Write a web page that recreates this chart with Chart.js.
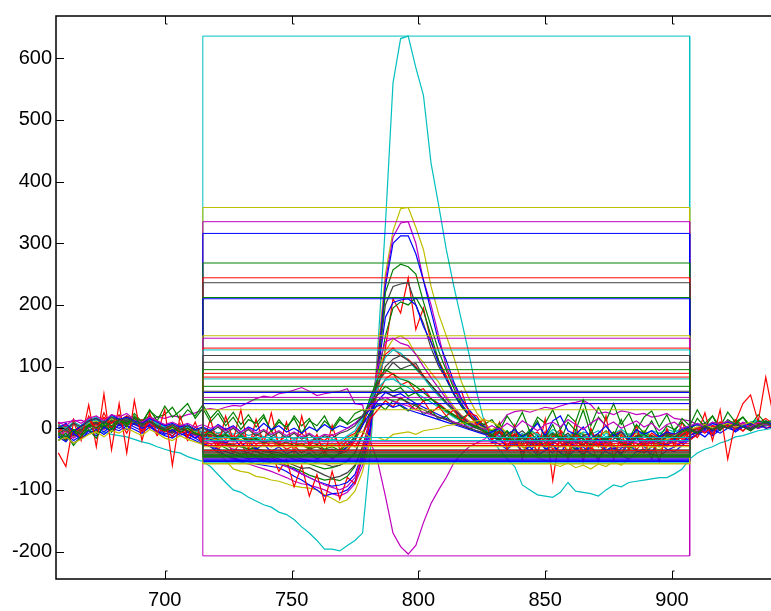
<!DOCTYPE html>
<html><head><meta charset="utf-8">
<script src="https://cdn.jsdelivr.net/npm/chart.js@4"></script>
<style>html,body{margin:0;padding:0;background:#fff;overflow:hidden;width:771px;height:611px}canvas{display:block}</style>
</head><body>
<canvas id="c" width="800" height="611"></canvas>
<script>
// x positions
const xs = [658,661,664,667,670,673,676,679,682,685,688,691,694,697,700,703,706,709,712,715,
718,721,724,727,730,733,736,739,742,745,748,751,754,757,760,763,766,769,772,775,778,781,
784,787,790,793,796,799,802,805,808,811,814,817,820,823,826,
829,832,835,838,841,844,847,850,853,856,859,862,865,868,871,874,877,880,883,886,889,892,895,898,901,904,907,910,913,916,919,922,925,928,931,934,937,940];
const xTicks = [700,750,800,850,900];
const yTicks = [-200,-100,0,100,200,300,400,500,600];
const boxSpan = [715,907];

const s01 = [5,3,-2,-5,-3,-8,-6,-10,-12,-14,-18,-22,-25,-30,-34,-38,-40,-46,-50,-54,-62,-75,-88,-100,-104,-112,-118,-124,-128,-136,-140,-148,-160,-170,-182,-196,-196,-199,-190,-182,-170,-40,
130,330,560,632,636,585,540,430,362,290,230,175,120,58,10,
-18,-35,-50,-62,-92,-100,-108,-110,-112,-104,-88,-102,-104,-106,-110,-100,-92,-95,-88,-86,-84,-82,-80,-80,-74,-66,-50,-40,-34,-30,-24,-20,-14,-12,-8,-4,-2,0];
const s02 = [8,10,12,13,8,5,10,12,8,10,15,12,14,18,16,20,18,22,25,30,32,30,34,37,36,42,48,52,50,56,58,62,66,60,53,56,58,60,64,40,38,-20,
-55,-110,-170,-192,-204,-190,-153,-122,-100,-80,-56,-42,-30,-24,-18,
-8,5,22,27,29,26,30,34,32,36,40,42,45,38,24,26,22,28,26,22,24,18,20,24,16,14,12,6,8,4,10,6,8,4,6,8,4,6];
const s03 = [-10,-5,-14,-8,2,5,-3,8,12,6,14,10,4,8,2,-4,0,-6,-10,-18,-30,-40,-52,-66,-70,-72,-78,-80,-84,-86,-90,-94,-96,-97,-100,-108,-114,-121,-116,-102,-70,-20,
120,250,320,356,358,326,290,230,185,150,115,75,48,25,10,
-5,2,-8,-15,-20,-12,-25,-30,-18,-22,-35,-28,-20,-32,-38,-30,-25,-40,-35,-28,-22,-30,-35,-26,-20,-14,-8,0,5,-2,8,4,10,2,6,12,4,8];
const s04 = [-8,-2,-12,-6,0,8,4,10,6,14,8,4,12,6,0,-6,2,-4,-12,-20,-25,-34,-45,-50,-55,-58,-62,-66,-70,-75,-80,-86,-90,-92,-96,-100,-106,-110,-104,-90,-60,-12,
110,240,310,333,335,300,240,200,150,100,70,45,28,14,4,
-8,-4,-12,-18,-10,-22,-26,-16,-20,-30,-24,-18,-28,-32,-22,-26,-34,-30,-20,-24,-28,-22,-18,-26,-30,-20,-12,-4,2,-6,4,8,2,10,6,4,12,6];
const s05 = [-15,-8,-20,-12,-4,2,-6,4,0,8,2,-4,6,0,-8,-12,-4,-10,-16,-24,-30,-38,-44,-48,-52,-54,-58,-60,-62,-64,-70,-78,-84,-92,-100,-110,-106,-105,-100,-86,-50,-5,
100,230,300,312,312,283,240,190,140,110,75,48,30,15,2,
-12,-20,-28,-18,-30,-36,-24,-32,-40,-28,-22,-34,-42,-30,-26,-38,-44,-32,-28,-36,-40,-30,-24,-34,-38,-28,-18,-10,-2,-8,0,6,-2,4,8,2,6,10];
const s06 = [-5,0,-10,-4,6,10,2,14,8,16,10,6,14,4,-2,-8,0,-6,-4,-12,-20,-26,-32,-38,-42,-40,-46,-50,-48,-54,-60,-64,-70,-76,-80,-84,-82,-85,-78,-62,-30,10,
90,220,257,266,262,250,205,165,125,94,65,40,22,10,0,
-10,-4,-16,-22,-14,-26,-20,-30,-24,-18,-28,-34,-22,-16,-26,-30,-20,-24,-32,-28,-18,-22,-30,-24,-16,-12,-6,0,4,-4,6,2,10,4,0,8,12,6];
const s07 = [10,-20,15,-10,20,-5,25,0,12,-8,18,-6,10,-12,5,-15,8,-20,-5,-28,-10,-35,-18,-40,-22,-50,-30,-55,-40,-70,-50,-95,-60,-110,-75,-120,-70,-115,-80,-90,-40,10,
60,130,210,187,244,160,195,140,110,85,55,60,25,20,0,
-20,-5,-30,-10,-45,-15,-40,-5,-35,-20,-50,-10,-38,-25,-55,-15,-30,-45,-10,-35,-20,-50,-15,-30,-10,-25,-5,-15,5,-10,8,0,12,-5,10,2,6,0];
const s08 = [-2,4,-8,0,10,14,6,18,12,20,14,8,16,6,0,-4,4,-2,-8,-14,-18,-22,-26,-30,-28,-34,-38,-42,-45,-50,-55,-60,-65,-64,-70,-76,-81,-78,-72,-60,-30,15,
100,200,230,234,236,200,170,130,100,80,55,35,20,8,0,
-6,-14,-8,-20,-12,-24,-18,-10,-22,-16,-26,-20,-12,-24,-30,-18,-14,-22,-28,-16,-20,-26,-14,-18,-24,-12,-6,-2,4,0,6,10,4,8,2,12,6,4];
const s09 = [0,6,-4,4,12,16,8,20,14,10,18,12,20,10,4,-2,6,0,-6,-10,-14,-18,-24,-28,-30,-34,-32,-38,-40,-44,-46,-50,-54,-58,-62,-66,-64,-60,-52,-40,-10,20,
80,150,195,205,200,212,190,150,110,80,55,36,20,10,2,
-4,2,-10,-6,-16,-2,-12,-20,-8,-14,-18,-6,-10,-22,-14,-4,-16,-10,-20,-12,-6,-14,-18,-8,-12,-4,0,6,2,8,4,10,6,2,8,4,12,6];
const s10 = [-20,-12,-24,-16,-8,-2,-10,0,-4,4,-2,-8,2,-6,-12,-16,-8,-14,-20,-26,-30,-34,-38,-42,-46,-50,-48,-54,-56,-58,-62,-66,-74,-80,-86,-90,-94,-92,-88,-75,-40,0,
90,180,204,208,210,200,165,140,105,80,56,38,22,10,0,
-20,-26,-34,-24,-38,-30,-44,-36,-28,-40,-46,-34,-30,-42,-48,-36,-32,-44,-50,-38,-34,-42,-46,-36,-30,-24,-16,-10,-4,-12,-2,4,-6,2,6,0,4,8];
const s11 = [-6,2,-10,-2,8,12,4,16,10,18,12,6,14,8,2,-2,6,-2,-6,-10,-8,-14,-10,-18,-12,-20,-16,-22,-18,-26,-24,-30,-28,-34,-30,-38,-36,-40,-32,-20,10,40,
90,125,144,150,142,120,107,90,75,52,35,21,12,6,0,
-2,4,-8,-4,-14,-6,-10,-18,-8,-12,-16,-4,-8,-20,-12,-6,-14,-10,-18,-8,-4,-12,-16,-6,-10,-2,2,6,0,8,4,10,2,6,8,4,10,6];
const s12 = [-12,-4,-16,-8,2,6,-2,10,4,12,6,0,8,2,-4,-8,0,-6,-12,-16,-20,-24,-28,-34,-36,-40,-44,-48,-52,-56,-62,-68,-74,-80,-86,-92,-96,-100,-94,-80,-40,20,
100,140,146,138,134,120,100,82,65,48,32,20,10,4,-2,
-8,-14,-6,-18,-12,-22,-10,-16,-24,-14,-20,-28,-12,-18,-26,-16,-10,-22,-30,-14,-18,-24,-12,-20,-16,-8,-4,2,-6,4,0,6,-2,8,4,0,6,2];
const s13 = [4,-6,8,-2,12,6,16,2,10,20,6,14,0,8,-4,4,-8,2,-10,-4,-14,-8,-18,-12,-22,-16,-26,-20,-30,-24,-34,-28,-40,-32,-44,-38,-50,-42,-36,-20,5,40,
80,120,130,118,112,100,85,70,55,40,28,18,8,2,-4,
-10,-18,-6,-24,-14,-8,-20,-30,-12,-16,-26,-8,-18,-34,-14,-22,-10,-28,-16,-6,-20,-12,-26,-14,-8,-18,-4,0,-8,4,-2,8,2,-4,6,10,0,4];
const s14 = [2,-4,6,0,10,14,6,18,10,14,8,4,12,6,0,4,-2,2,-4,-8,-6,-12,-8,-16,-10,-18,-14,-20,-16,-22,-18,-24,-20,-26,-22,-28,-24,-30,-20,-10,15,45,
85,115,127,122,110,96,82,66,52,40,28,16,8,2,-2,
-6,-12,-4,-16,-8,-20,-10,-14,-6,-18,-12,-4,-16,-10,-20,-8,-14,-6,-12,-4,-10,-16,-8,-12,-6,-2,2,6,0,8,4,10,6,2,8,12,4,8];
const s15 = [-4,2,-8,-2,6,10,2,12,8,14,10,4,12,4,-2,-6,2,-4,-8,-14,-16,-20,-24,-26,-30,-28,-34,-36,-38,-40,-44,-46,-50,-52,-56,-58,-62,-60,-54,-40,-10,25,
70,100,112,118,110,98,84,70,56,42,30,18,8,2,-2,
-12,-6,-18,-10,-22,-14,-26,-16,-8,-20,-24,-12,-18,-28,-14,-20,-10,-24,-30,-16,-12,-22,-26,-14,-18,-10,-4,-8,0,-4,2,6,0,4,8,2,6,4];
const s16 = [-8,-2,-12,-4,4,8,0,10,4,12,6,2,10,2,-4,-8,0,-6,-10,-12,-10,-16,-12,-20,-14,-22,-18,-24,-20,-28,-24,-30,-26,-34,-30,-36,-34,-38,-30,-18,5,40,
75,91,107,96,101,105,85,70,56,42,30,18,8,2,-4,
-14,-8,-20,-12,-4,-16,-22,-10,-18,-6,-14,-24,-12,-8,-20,-16,-6,-18,-26,-12,-8,-20,-14,-10,-16,-6,-2,-10,2,-4,4,0,8,2,-2,6,10,4];
const s17 = [-6,6,-10,4,14,0,18,8,22,4,16,-2,12,2,-6,6,-4,-12,2,-8,-4,-14,0,-18,-6,-20,-10,-16,-4,-22,-12,-18,-8,-24,-14,-20,-10,-26,-14,-8,10,35,
55,80,89,70,76,60,64,48,40,30,22,14,6,0,-6,
-16,-4,-22,-8,-30,-12,-6,-24,-14,-2,-20,-10,-28,-6,-18,-32,-10,-4,-22,-12,-26,-8,-16,-4,-20,-10,0,-6,6,-2,10,2,14,4,-4,8,16,6];
const s18 = [6,0,10,4,14,18,10,20,14,16,10,6,14,8,2,6,0,4,-2,-6,-2,-8,-4,-10,-6,-12,-8,-14,-10,-16,-12,-18,-14,-20,-16,-22,-18,-20,-12,-4,20,45,
65,78,80,72,66,58,50,42,34,26,18,10,4,0,-4,
-8,-2,-12,-6,-16,-4,-10,-14,-2,-8,-12,-18,-6,-10,-4,-14,-8,-2,-10,-6,-12,-4,-8,-2,-6,0,4,8,2,10,6,12,8,4,10,14,6,10];
const s19 = [-10,-20,-4,-16,4,-8,12,-2,16,6,24,10,28,18,22,34,14,30,20,38,16,30,10,26,6,22,2,18,-4,14,-2,20,4,16,-6,12,0,18,6,14,20,38,
55,68,60,66,52,58,44,48,36,30,22,16,24,12,6,
14,-4,20,2,26,-6,18,8,30,-2,22,10,46,4,34,12,40,6,24,-4,18,28,2,22,-6,16,4,30,8,20,2,26,10,18,4,22,8,14];
const s20 = [-14,-22,-8,-18,-4,-12,2,-6,6,-2,8,0,4,-4,-10,-2,-12,-6,-16,-8,-20,-12,-24,-16,-30,-20,-34,-26,-38,-30,-42,-36,-46,-40,-50,-44,-48,-40,-30,-14,5,25,
45,58,52,56,48,40,34,28,22,16,10,4,0,-4,-8,
-24,-16,-32,-20,-38,-28,-14,-34,-26,-40,-22,-30,-44,-26,-18,-36,-28,-42,-24,-16,-30,-38,-22,-28,-18,-24,-12,-6,-14,-2,-8,0,-4,4,-2,6,0,2];
const s21 = [-40,-62,10,-20,38,-30,56,-35,40,-40,45,-20,25,-10,30,-60,20,-15,10,-25,15,-30,20,-20,30,-35,15,-25,25,-30,10,-40,20,-30,-10,-45,5,-35,-20,-30,-10,15,
30,45,35,50,40,30,45,25,35,20,30,10,25,5,15,
-20,10,-35,5,-50,-10,-40,15,-85,-5,-45,10,-55,0,-30,20,-50,-10,-35,5,-40,-15,-55,0,-30,10,-20,-10,25,-20,30,-50,10,40,54,10,83,20];
const s22 = [-20,-8,-28,-12,-2,-16,6,-6,14,2,20,8,30,12,36,18,28,40,16,32,10,24,4,18,-2,14,8,22,-6,10,2,16,-8,12,4,20,-4,14,8,24,30,20,
40,30,45,36,28,40,22,30,14,20,6,12,-2,4,-6,
-14,8,-20,2,-26,-8,12,-16,6,-22,10,-4,30,-10,18,4,-12,14,-18,6,-8,12,-14,4,-2,10,-6,16,2,20,-4,14,6,18,0,12,8,4];
const s23 = [0,8,-6,4,12,16,8,22,14,18,12,8,16,10,4,8,2,6,-2,2,-4,6,-2,4,-6,2,-4,8,-2,4,-6,0,-8,2,-4,6,-2,4,0,8,18,30,
36,40,34,38,30,26,22,18,14,10,6,2,-2,-6,-10,
-6,0,-10,-2,-14,-6,8,-12,12,20,-4,-10,2,-16,-8,4,-12,-6,-18,-2,-10,-4,-14,-6,-10,-2,2,6,0,8,4,10,6,2,8,4,10,6];
const s24 = [-20,-14,-24,-18,-10,-6,-14,-4,-8,0,-6,-12,-2,-8,-16,-20,-12,-18,-22,-26,-16,-20,-14,-22,-18,-24,-20,-26,-22,-28,-24,-30,-26,-32,-28,-30,-26,-24,-18,-10,-5,-15,
-15,-20,-10,-8,-6,-10,-4,-2,0,4,6,8,10,12,14,
10,4,-10,-20,-30,-40,-48,-52,-58,-62,-56,-64,-60,-66,-58,-62,-54,-60,-50,-44,-36,-30,-24,-18,-12,-6,-2,2,6,0,4,8,2,6,10,4,8,2];
const s25 = [10,4,14,8,16,20,12,22,18,24,14,10,18,12,6,10,4,8,2,6,0,4,-4,2,-6,0,-8,-2,-10,-4,-12,-6,-14,-8,-16,-10,-12,-6,0,8,20,35,
45,50,44,40,36,30,26,22,18,14,10,6,2,0,-2,
4,-2,8,0,12,4,-4,6,10,2,14,6,-2,8,16,4,10,0,6,12,2,8,-4,6,10,0,4,8,2,10,6,12,4,8,2,10,6,4];
const s26 = [-8,-14,-2,-10,6,0,10,4,14,8,16,6,12,2,-4,2,-6,0,-8,-12,-6,-14,-10,-18,-12,-20,-16,-24,-18,-26,-22,-28,-24,-32,-26,-34,-30,-36,-26,-14,10,50,
80,95,88,80,76,68,58,48,38,28,20,12,6,0,-4,
-10,-18,-4,-22,-12,-6,-20,-26,-10,-14,-24,-8,-16,-28,-12,-20,-6,-22,-30,-14,-10,-18,-24,-12,-16,-6,-2,-8,4,-2,6,0,8,2,-4,4,10,2];
const s27 = [4,-2,8,2,12,16,8,18,12,16,10,6,12,4,0,6,-2,4,-4,0,-6,2,-8,0,-10,-2,-12,-4,-14,-6,-16,-8,-18,-10,-20,-12,-16,-8,-4,4,20,40,
55,60,52,48,42,36,30,24,18,14,8,4,0,-4,-8,
-14,-20,-10,-26,-16,-30,-20,-12,-24,-18,-8,-22,-28,-16,-10,-24,-18,-6,-20,-14,-26,-12,-18,-8,-14,-4,0,-6,2,-2,4,0,6,2,-2,6,8,4];

const seriesColors = ['c','m','y','m','b','g','r','k','g','b','y','m','r','c','k','k','r','c','g','b','r','g','b','y','m','g','k'];
const boxTop =    [636,40,358,335,316,268,244,236,212,210,150,146,130,127,118,107,89,80,68,58,83,46,40,30,50,95,60];
const boxBottom = [-56,-207,-57,-50,-52,-45,-40,-35,-42,-54,-30,-48,-25,-20,-38,-44,-28,-15,-46,-53,-36,-43,-50,-58,-22,-47,-40];

const palette = {b:'#0000ff', g:'#008000', r:'#ff0000', c:'#00bfbf', m:'#bf00bf', y:'#bfbf00', k:'#404040'};
const curves = [s01,s02,s03,s04,s05,s06,s07,s08,s09,s10,s11,s12,s13,s14,s15,s16,s17,s18,s19,s20,s21,s22,s23,s24,s25,s26,s27];

const datasets = [];
curves.forEach((vals, i) => {
  datasets.push({
    data: vals.map((v, j) => ({x: xs[j], y: v})),
    borderColor: palette[seriesColors[i]], borderWidth: 1.2,
    showLine: true, pointRadius: 0, fill: false, tension: 0,
    order: 1000 - i
  });
});
curves.forEach((vals, i) => {
  const t = boxTop[i], b = boxBottom[i];
  datasets.push({
    data: [{x: boxSpan[0], y: b}, {x: boxSpan[0], y: t}, {x: boxSpan[1], y: t}, {x: boxSpan[1], y: b}, {x: boxSpan[0], y: b}],
    borderColor: palette[seriesColors[i]], borderWidth: 1,
    showLine: true, pointRadius: 0, fill: false, tension: 0,
    order: 100 - i
  });
});

const frame = {
  id: 'frame',
  afterDatasetsDraw(chart) {
    const {ctx, chartArea: a, scales: {x, y}} = chart;
    ctx.save();
    ctx.strokeStyle = '#000';
    ctx.lineWidth = 1.5;
    ctx.beginPath();
    ctx.moveTo(a.right + 10, a.top); ctx.lineTo(a.left, a.top);
    ctx.lineTo(a.left, a.bottom); ctx.lineTo(a.right + 10, a.bottom);
    ctx.stroke();
    ctx.lineWidth = 1;
    ctx.beginPath();
    xTicks.forEach(v => {
      const px = Math.round(x.getPixelForValue(v)) + 0.5;
      ctx.moveTo(px, a.bottom); ctx.lineTo(px, a.bottom - 8); ctx.lineTo(px + 2, a.bottom - 8);
      ctx.moveTo(px, a.top); ctx.lineTo(px, a.top + 8); ctx.lineTo(px + 2, a.top + 8);
    });
    yTicks.forEach(v => {
      const py = Math.round(y.getPixelForValue(v)) + 0.5;
      ctx.moveTo(a.left, py); ctx.lineTo(a.left + 8, py);
    });
    ctx.stroke();
    ctx.restore();
  }
};

const font = {family: '"Liberation Sans", Arial, Helvetica, sans-serif', size: 20};
new Chart(document.getElementById('c'), {
  type: 'scatter',
  data: {datasets},
  plugins: [frame],
  options: {
    responsive: false, animation: false,
    layout: {padding: {left: 0, right: 0, top: 10, bottom: 0}},
    plugins: {legend: {display: false}, tooltip: {enabled: false}},
    scales: {
      x: {
        type: 'linear', min: 657.1, max: 950.5,
        grid: {display: false, drawTicks: false}, border: {display: false},
        afterBuildTicks: s => { s.ticks = xTicks.map(v => ({value: v})); },
        ticks: {color: '#000', font, padding: 9, maxRotation: 0},
        afterFit: s => { s.height = 32; }
      },
      y: {
        type: 'linear', min: -244.5, max: 668.6,
        grid: {display: false, drawTicks: false}, border: {display: false},
        afterBuildTicks: s => { s.ticks = yTicks.map(v => ({value: v})); },
        ticks: {color: '#000', font, padding: 4},
        afterFit: s => { s.width = 56; }
      }
    }
  }
});
</script>
</body></html>
